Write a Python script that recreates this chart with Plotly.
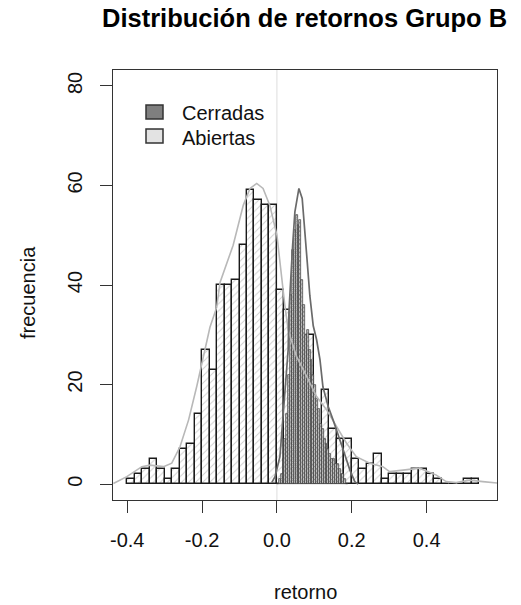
import numpy as np
import plotly.graph_objects as go

# ---------------- data ----------------
# Abiertas histogram: bin width 0.02, left edges from -0.40
ab_bin_width = 0.02
ab_left_edges = [round(-0.40 + 0.02 * i, 2) for i in range(47)]
ab_counts = [1, 2, 3, 5, 3, 1, 3, 7, 8, 14,
             27, 23, 40, 40, 41, 48, 59, 57, 56, 56,
             39, 35, 26, 24, 30, 11, 19, 11, 9, 9,
             5, 3, 4, 6, 1, 2, 2, 2, 3, 3,
             2, 1, 0, 0, 0, 1, 1]

# Cerradas histogram: bin width 0.005, left edges from 0.0
ce_bin_width = 0.005
ce_left_edges = [round(0.0 + 0.005 * i, 3) for i in range(38)]
ce_counts = [0, 1, 2, 5, 9, 14, 22, 38, 47, 51,
             54, 52, 53, 41, 36, 30, 31, 27, 25, 22,
             20, 17, 15, 12, 11, 9, 8, 7, 6, 5,
             5, 4, 4, 3, 2, 2, 1, 0]

# Density curves (scaled to frequency)
ab_dens_x = [-0.437, -0.401, -0.361, -0.339, -0.303, -0.281, -0.259, -0.236, -0.214, -0.192,
             -0.179, -0.161, -0.152, -0.117, -0.090, -0.072, -0.054, -0.037, -0.019, 0.000,
             0.010, 0.021, 0.030, 0.052, 0.079, 0.106, 0.132, 0.159, 0.186, 0.212,
             0.248, 0.283, 0.301, 0.337, 0.381, 0.426, 0.452, 0.479, 0.515, 0.550, 0.590]
ab_dens_y = [0.1, 1.5, 3.5, 3.8, 3.5, 4.2, 7.5, 12.9, 19.7, 27.0,
             31.5, 35.5, 40.5, 48.0, 56.0, 59.4, 60.4, 59.4, 56.0, 50.0,
             43.0, 36.0, 31.0, 25.7, 21.7, 17.6, 15.0, 11.6, 8.2, 5.5,
             4.2, 3.5, 2.5, 2.8, 3.2, 1.8, 0.5, 0.3, 0.8, 0.5, 0.2]

ce_dens_x = [-0.014, -0.005, 0.008, 0.017, 0.026, 0.030, 0.032, 0.036, 0.042, 0.048,
             0.0587, 0.0675, 0.0747, 0.081, 0.088, 0.097, 0.106, 0.115, 0.123, 0.137,
             0.150, 0.163, 0.177, 0.195, 0.208, 0.217]
ce_dens_y = [0.3, 1.5, 5.5, 13.6, 22.4, 27.0, 34.5, 41.2, 48.0, 54.7,
             59.4, 57.4, 51.3, 44.6, 37.8, 31.8, 29.0, 25.0, 19.5, 15.6,
             12.9, 10.2, 6.9, 2.8, 0.5, 0.0]

x_tick_vals = [-0.4, -0.2, 0.0, 0.2, 0.4]
x_tick_text = ["-0.4", "-0.2", "0.0", "0.2", "0.4"]
y_tick_vals = [0, 20, 40, 60, 80]
y_tick_text = ["0", "20", "40", "60", "80"]

title_text = "Distribución de retornos Grupo B"
x_label = "retorno"
y_label = "frecuencia"
legend_labels = ["Cerradas", "Abiertas"]

# ---------------- figure ----------------
FONT = "Liberation Sans, Arial, sans-serif"
W, H = 521, 605
L, R, T, B = 113, 24, 70, 105

fig = go.Figure()

fig.add_trace(go.Bar(
    x=ab_left_edges, y=ab_counts, width=ab_bin_width, offset=0,
    marker=dict(color="white", line=dict(color="#1a1a1a", width=1.4),
                pattern=dict(shape="/", fgcolor="#a0a0a0", bgcolor="white",
                             size=5, solidity=0.2)),
    showlegend=False, name=legend_labels[1]))

fig.add_trace(go.Bar(
    x=ce_left_edges, y=ce_counts, width=ce_bin_width, offset=0,
    marker=dict(color="white", line=dict(color="#3a3a3a", width=0.7),
                pattern=dict(shape="x", fgcolor="#3c3c3c", bgcolor="#d0d0d0",
                             size=3, solidity=0.4)),
    showlegend=False, name=legend_labels[0]))

fig.add_trace(go.Scatter(x=ab_dens_x, y=ab_dens_y, mode="lines",
                         line=dict(color="#b8b8b8", width=1.6), showlegend=False))
fig.add_trace(go.Scatter(x=ce_dens_x, y=ce_dens_y, mode="lines",
                         line=dict(color="#6a6a6a", width=1.7), showlegend=False))

pw = W - L - R
ph = H - T - B

def px_x(p):
    return (p - L) / pw

def px_y(p):
    return (H - B - p) / ph

shapes = [
    dict(type="line", xref="x", yref="paper", x0=0, x1=0, y0=0, y1=1,
         line=dict(color="#dddddd", width=1), layer="below"),
    dict(type="rect", xref="paper", yref="paper",
         x0=px_x(146), x1=px_x(163), y0=px_y(119), y1=px_y(105),
         fillcolor="#7f7f7f", line=dict(color="#333333", width=1.5)),
    dict(type="rect", xref="paper", yref="paper",
         x0=px_x(146), x1=px_x(163), y0=px_y(143), y1=px_y(129),
         fillcolor="#e3e3e3", line=dict(color="#333333", width=1.5)),
]

annotations = [
    dict(text=legend_labels[0], xref="paper", yref="paper", x=px_x(180), y=px_y(113),
         xanchor="left", yanchor="middle", showarrow=False,
         font=dict(family=FONT, size=20, color="#111111")),
    dict(text=legend_labels[1], xref="paper", yref="paper", x=px_x(180), y=px_y(138),
         xanchor="left", yanchor="middle", showarrow=False,
         font=dict(family=FONT, size=20, color="#111111")),
    dict(text=x_label, xref="paper", yref="paper", x=0.5, y=px_y(592),
         xanchor="center", yanchor="middle", showarrow=False,
         font=dict(family=FONT, size=20, color="#111111")),
    dict(text=y_label, xref="paper", yref="paper", x=px_x(28), y=px_y(293),
         xanchor="center", yanchor="middle", textangle=-90, showarrow=False,
         font=dict(family=FONT, size=20, color="#111111")),
    dict(text="<b>" + title_text + "</b>", xref="paper", yref="paper", x=px_x(304), y=px_y(18),
         xanchor="center", yanchor="middle", showarrow=False,
         font=dict(family=FONT, size=25.5, color="#000000")),
]

fig.update_layout(
    width=W, height=H, margin=dict(l=L, r=R, t=T, b=B, pad=0),
    paper_bgcolor="white", plot_bgcolor="white",
    barmode="overlay", bargap=0,
    shapes=shapes, annotations=annotations,
    font=dict(family=FONT, size=20, color="#111111"),
)

fig.update_xaxes(range=[-0.438, 0.588], tickvals=x_tick_vals, ticktext=x_tick_text,
                 showgrid=False, zeroline=False, showline=True, mirror=True,
                 linecolor="#333333", linewidth=1.2, ticks="outside", ticklen=12,
                 tickwidth=1.2, tickcolor="#333333", ticklabelstandoff=10,
                 tickfont=dict(family=FONT, size=20, color="#111111"))
fig.update_yaxes(range=[-3.2, 83.2], tickvals=y_tick_vals, ticktext=y_tick_text,
                 showgrid=False, zeroline=False, showline=True, mirror=True,
                 linecolor="#333333", linewidth=1.2, ticks="outside", ticklen=12,
                 tickwidth=1.2, tickcolor="#333333", tickangle=-90, ticklabelstandoff=10,
                 tickfont=dict(family=FONT, size=20, color="#111111"))

fig.write_html("out.html")
